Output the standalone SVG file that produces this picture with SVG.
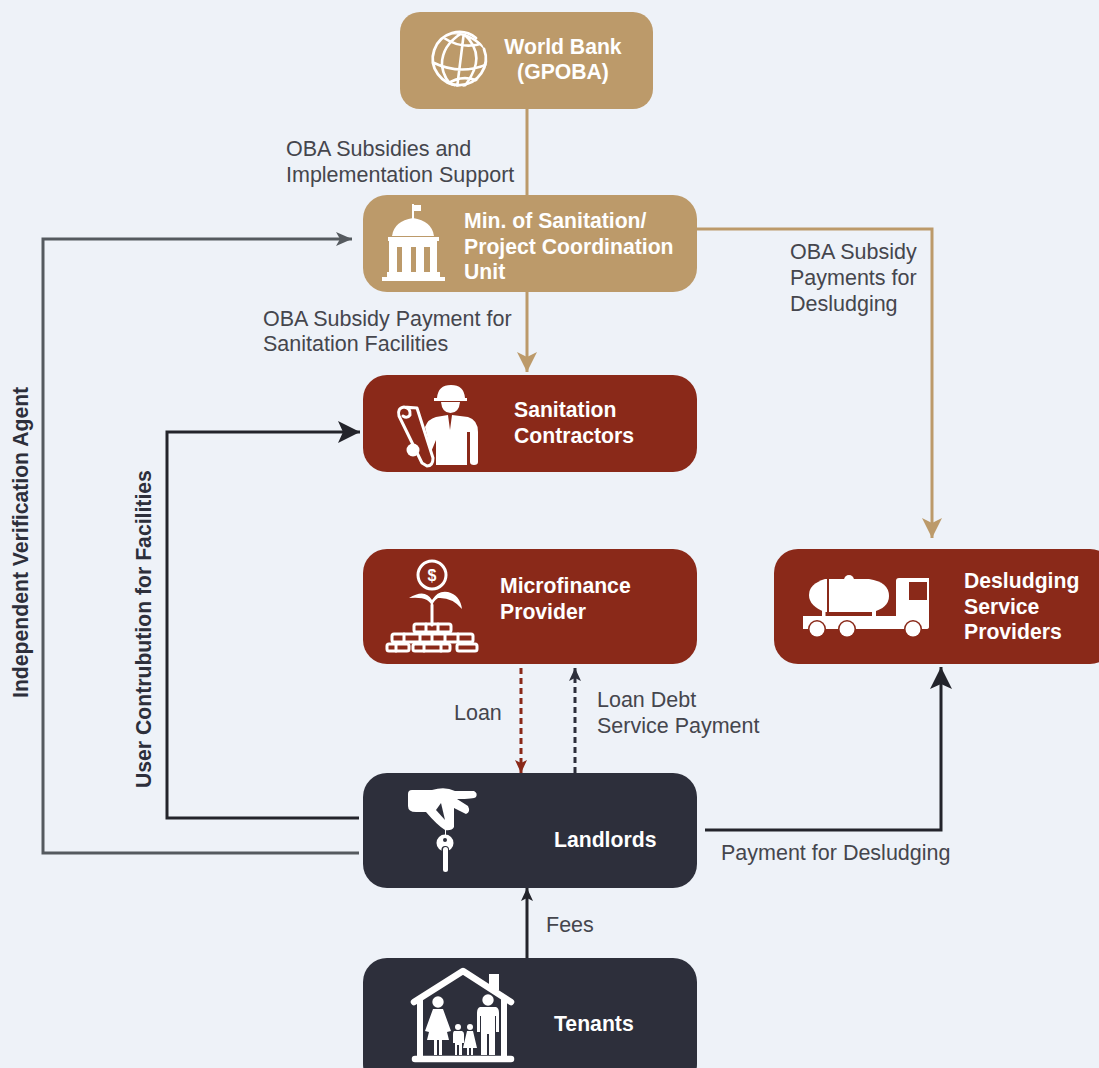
<svg xmlns="http://www.w3.org/2000/svg" width="1099" height="1068" viewBox="0 0 1099 1068">
<style>
.n{font:bold 21.2px "Liberation Sans",Arial,sans-serif;fill:#fff}
.l{font:21.5px "Liberation Sans",Arial,sans-serif;fill:#45464d}
.v{font:bold 21.2px "Liberation Sans",Arial,sans-serif;fill:#2d2f3b}
.tan{fill:#bc9a6a}.red{fill:#8a2919}.dark{fill:#2d2f3b}
.c{fill:none;stroke-width:3}
.i{fill:#fff}.o{fill:none;stroke:#fff;stroke-linecap:round;stroke-linejoin:round}
</style>
<defs>
<marker id="aT" markerUnits="userSpaceOnUse" markerWidth="24" markerHeight="24" refX="21" refY="11" orient="auto"><path d="M21 11L1 1L6 11L1 21Z" fill="#bc9a6a"/></marker>
<marker id="aK" markerUnits="userSpaceOnUse" markerWidth="26" markerHeight="26" refX="23" refY="12" orient="auto"><path d="M23 12L1 1L6 12L1 23Z" fill="#23242b"/></marker>
<marker id="aG" markerUnits="userSpaceOnUse" markerWidth="20" markerHeight="20" refX="17" refY="9" orient="auto"><path d="M17 9L1 2L5 9L1 16Z" fill="#555a5f"/></marker>
<marker id="aS" markerUnits="userSpaceOnUse" markerWidth="16" markerHeight="16" refX="14" refY="7" orient="auto"><path d="M14 7L1 1L4 7L1 13Z" fill="#23242b"/></marker>
<marker id="aR" markerUnits="userSpaceOnUse" markerWidth="16" markerHeight="16" refX="14" refY="7" orient="auto"><path d="M14 7L1 1L4 7L1 13Z" fill="#8a2919"/></marker>
<marker id="aD" markerUnits="userSpaceOnUse" markerWidth="16" markerHeight="16" refX="14" refY="7" orient="auto"><path d="M14 7L1 1L4 7L1 13Z" fill="#2d2f3b"/></marker>
<clipPath id="gl"><circle cx="460" cy="60" r="27"/></clipPath>
</defs>
<rect width="1099" height="1068" fill="#eef2f8"/>
<g id="connectors">
<path class="c" stroke="#bc9a6a" d="M527 109V195"/>
<path class="c" stroke="#bc9a6a" d="M527 292V372" marker-end="url(#aT)"/>
<path class="c" stroke="#bc9a6a" d="M697 229H932V538" marker-end="url(#aT)"/>
<path class="c" stroke="#555a5f" d="M359 853H43V239H352" marker-end="url(#aG)"/>
<path class="c" stroke="#23242b" d="M359 818H167V432H360" marker-end="url(#aK)"/>
<path class="c" stroke="#23242b" d="M705 830H941V667" marker-end="url(#aK)"/>
<path class="c" stroke="#23242b" d="M527 958V888" marker-end="url(#aS)"/>
<path class="c" stroke="#8a2919" stroke-dasharray="6 4" d="M521 668V773" marker-end="url(#aR)"/>
<path class="c" stroke="#2d2f3b" stroke-dasharray="6 4" d="M575 773V668" marker-end="url(#aD)"/>
</g>
<g id="labels">
<text class="l"><tspan x="286" y="156">OBA Subsidies and</tspan><tspan x="286" y="182">Implementation Support</tspan></text>
<text class="l"><tspan x="263" y="326">OBA Subsidy Payment for</tspan><tspan x="263" y="351">Sanitation Facilities</tspan></text>
<text class="l"><tspan x="790" y="259">OBA Subsidy</tspan><tspan x="790" y="285">Payments for</tspan><tspan x="790" y="311">Desludging</tspan></text>
<text class="l" x="454" y="720">Loan</text>
<text class="l"><tspan x="597" y="707">Loan Debt</tspan><tspan x="597" y="733">Service Payment</tspan></text>
<text class="l" x="721" y="860">Payment for Desludging</text>
<text class="l" x="546" y="932">Fees</text>
<text class="v" transform="translate(28 698) rotate(-90)">Independent Verification Agent</text>
<text class="v" transform="translate(151 788) rotate(-90)">User Contrubution for Facilities</text>
</g>
<g id="world-bank">
<rect class="tan" x="400" y="12" width="253" height="97" rx="20"/>
<path class="o" stroke-width="2.800" d="M476 38A26.500 26.500 0 1 0 484 49"/>
<g class="o" stroke-width="2.600" clip-path="url(#gl)"><path d="M462 33Q441 46 442 66Q444 80 455 88M463 33Q482 50 474 70Q470 80 463 88M464 32L457 88M444 38Q462 50 484 43M432 62Q460 76 488 64M447 84Q462 74 478 81M452 33Q472 33 488 52"/></g>
<text class="n" text-anchor="middle"><tspan x="563" y="54">World Bank</tspan><tspan x="563" y="79">(GPOBA)</tspan></text>
</g>
<g id="ministry">
<rect class="tan" x="363" y="195" width="334" height="97" rx="24"/>
<g class="i"><path d="M412 204H414V205H421V211H414V219H412Z"/><path d="M392 236Q394 221 413 218Q432 221 434 236Z"/><rect x="388" y="237" width="51" height="4"/><path fill-rule="evenodd" d="M389 241H437V272H389ZM397 247V272H402V247ZM411 247V272H416V247ZM424 247V272H430V247Z"/><path d="M387 272H440V277H445V281H382V277H387Z"/></g>
<text class="n"><tspan x="464" y="228">Min. of Sanitation/</tspan><tspan x="464" y="254">Project Coordination</tspan><tspan x="464" y="279">Unit</tspan></text>
</g>
<g id="sanitation-contractors">
<rect class="red" x="363" y="375" width="334" height="97" rx="24"/>
<g class="i"><path d="M437 398Q438 385 451 385Q464 385 465 398L467 398V401H434V398Z"/><path d="M441 402H460Q459 413 450.500 413Q442 413 441 402Z"/><path d="M436 417L448 415L450 430L452 415L468 417Q478 420 478 432V462Q478 465 474 465Q470 465 470 462V432H467V465H436V440L431 452L425 427Q428 419 436 417Z"/><circle cx="413" cy="450" r="6.500"/></g>
<g class="o" stroke-width="3"><path d="M404 407L417 408L433 458Q433 466 427 466L422 463L399 416Q397 408 404 407Q411 408 410 415Q407 419 403 416"/></g>
<text class="n"><tspan x="514" y="417">Sanitation</tspan><tspan x="514" y="443">Contractors</tspan></text>
</g>
<g id="microfinance">
<rect class="red" x="363" y="549" width="334" height="115" rx="24"/>
<g class="o" stroke-width="3"><circle cx="432" cy="575" r="14"/><path d="M432 605V625"/><rect x="414" y="624" width="37" height="8" rx="2"/><rect x="392" y="634" width="81" height="8" rx="2"/><rect x="387" y="644" width="22" height="7" rx="2"/><rect x="413" y="644" width="37" height="7" rx="2"/><rect x="457" y="644" width="20" height="7" rx="2"/><path d="M426 624V632M438 624V632M404 634V642M420 634V642M432 634V642M445 634V642M458 634V642M396 644V651M424 644V651M441 644V651"/></g>
<g class="i"><path d="M432 607Q430 596 409 598Q425 588 432 600Q438 590 448 592Q460 595 462 609Q452 597 438 598Q433 601 432 607Z"/></g>
<text x="432" y="581" text-anchor="middle" style="font:bold 16px 'Liberation Sans',sans-serif" fill="#fff">$</text>
<text class="n"><tspan x="500" y="593">Microfinance</tspan><tspan x="500" y="619">Provider</tspan></text>
</g>
<g id="desludging">
<rect class="red" x="774" y="549" width="340" height="115" rx="24"/>
<g class="i"><circle cx="849" cy="580" r="5"/><path d="M827 579V612H825Q809 606 809 595Q809 584 825 579Z"/><path d="M829 579H869Q889 582 889 596Q889 608 872 612H829Z"/><rect x="822" y="610" width="3.500" height="8"/><rect x="872" y="610" width="4" height="8"/><path fill-rule="evenodd" d="M803 616H896V581Q896 578 899 578H929V627Q929 629 926 629H803ZM909 582V600H927V582Z"/></g>
<g class="red"><circle cx="817" cy="629" r="9"/><circle cx="847" cy="629" r="9"/><circle cx="913" cy="629" r="9"/></g>
<g class="i"><circle cx="817" cy="629" r="7.500"/><circle cx="847" cy="629" r="7.500"/><circle cx="913" cy="629" r="7.500"/></g>
<text class="n"><tspan x="964" y="588">Desludging</tspan><tspan x="964" y="614">Service</tspan><tspan x="964" y="639">Providers</tspan></text>
</g>
<g id="landlords">
<rect class="dark" x="363" y="773" width="334" height="115" rx="24"/>
<g class="i"><path d="M412 790H432Q445 786 455 791H474Q478 793 476 797Q474 799 457 799L468 806Q471 812 466 814L454 808V827Q452 831 445 830Q437 825 426 812H416Q408 812 408 806V794Q408 790 412 790Z"/><path d="M445 829h1v9h-1z"/><circle cx="445" cy="843" r="8.500"/></g>
<path d="M436 810L441 803L445 820Z" fill="#2d2f3b"/>
<circle cx="445" cy="840" r="2" fill="#2d2f3b"/>
<rect x="441.500" y="846" width="7.500" height="27" rx="3.500" fill="#2d2f3b"/>
<rect class="i" x="443" y="847" width="5" height="25" rx="2.500"/>
<text class="n" x="554" y="847">Landlords</text>
</g>
<g id="tenants">
<rect class="dark" x="363" y="958" width="334" height="130" rx="24"/>
<g class="o" stroke-width="6.500"><path d="M414 1002L463 971L511 1002"/><path d="M415 1059H511"/></g>
<rect class="i" x="417" y="998" width="6" height="60"/><rect class="i" x="501" y="998" width="6" height="60"/>
<rect class="i" x="489" y="974" width="10" height="16"/>
<g class="i"><circle cx="438" cy="1002" r="5.700"/><path d="M433 1009H443L451 1031L447 1032L449 1040H442V1055H439V1040H437V1055H434V1040H427L429 1032L425 1031Z"/><circle cx="488" cy="1000" r="5.700"/><path d="M480 1007H496Q499 1008 499 1013V1032H496V1016H495V1055H489V1034H487V1055H481V1016H480V1032H477V1013Q477 1008 480 1007Z"/><circle cx="458" cy="1027" r="3"/><path d="M454 1031H462Q464 1032 464 1034V1043H462V1055H459V1045H457V1055H455V1043H453V1034Q453 1032 454 1031Z"/><circle cx="470" cy="1027" r="3"/><path d="M467 1031H473L477 1048H473V1055H471V1048H469V1055H467V1048H463Z"/></g>
<text class="n" x="554" y="1031">Tenants</text>
</g>
</svg>
